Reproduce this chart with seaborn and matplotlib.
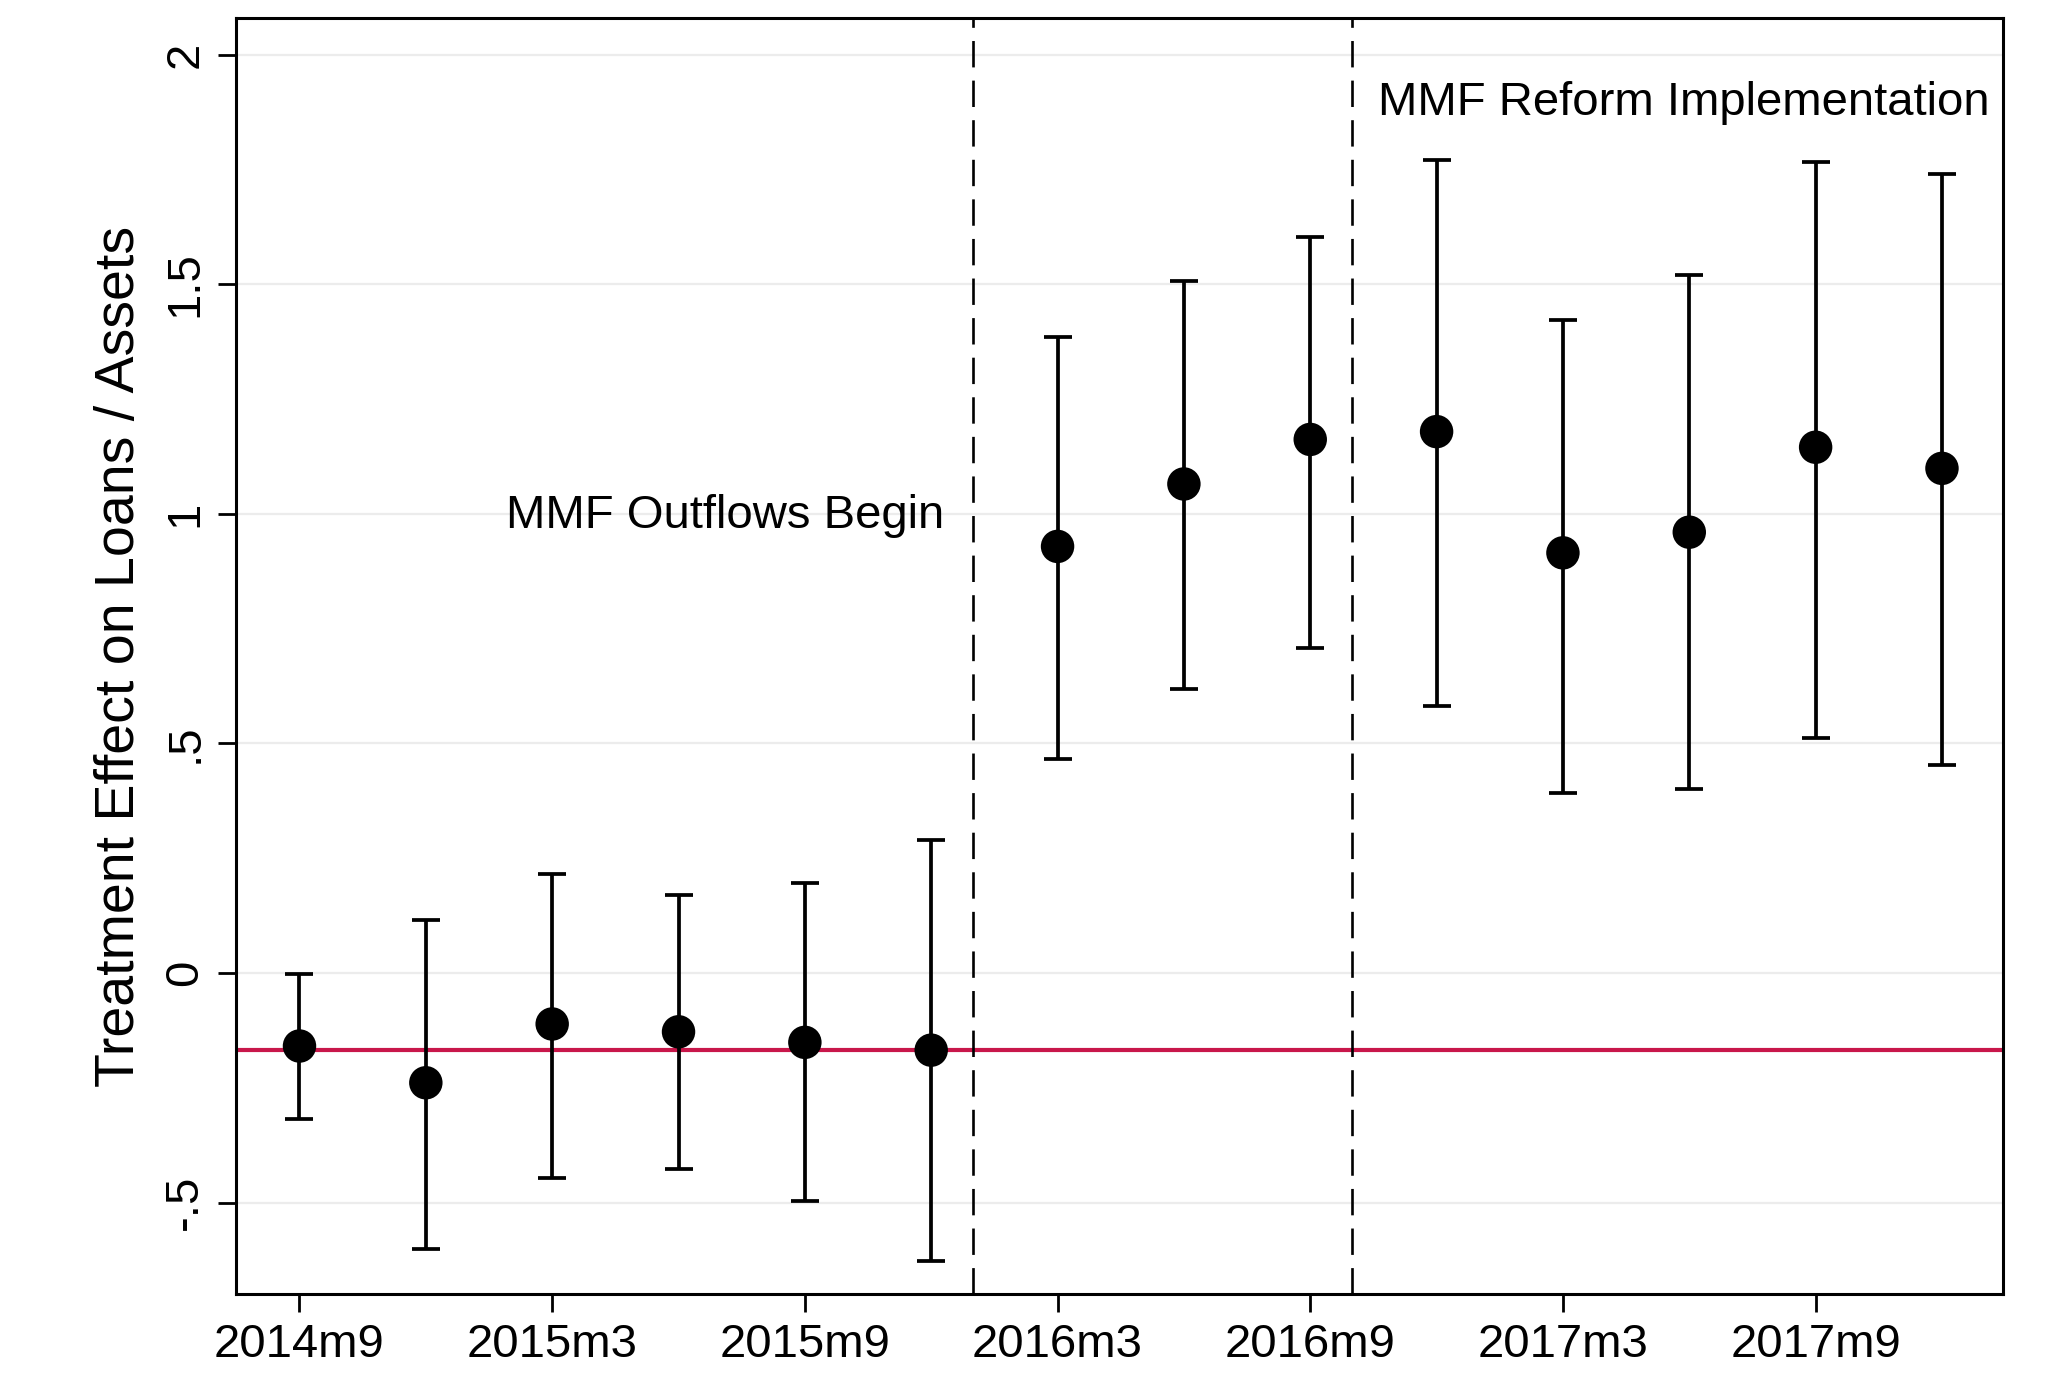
import numpy as np
import pandas as pd
import matplotlib
matplotlib.use("Agg")
import matplotlib.pyplot as plt
import seaborn as sns

# quarterly event-study estimates
periods = ["2014m9", "2014m12", "2015m3", "2015m6", "2015m9", "2015m12",
           "2016m3", "2016m6", "2016m9", "2016m12", "2017m3", "2017m6",
           "2017m9", "2017m12"]
coef = [-0.159, -0.239, -0.111, -0.128, -0.151, -0.168,
        0.929, 1.065, 1.162, 1.179, 0.915, 0.960, 1.145, 1.099]
ci_low = [-0.318, -0.602, -0.446, -0.426, -0.497, -0.628,
          0.466, 0.619, 0.707, 0.582, 0.392, 0.401, 0.511, 0.452]
ci_high = [-0.003, 0.116, 0.216, 0.170, 0.196, 0.290,
           1.384, 1.506, 1.602, 1.770, 1.423, 1.520, 1.767, 1.741]

tick_labels = ["2014m9", "2015m3", "2015m9", "2016m3", "2016m9", "2017m3", "2017m9"]
event_dates = ["2016m1", "2016m10"]
event_labels = ["MMF Outflows Begin", "MMF Reform Implementation"]
pre_mean = -0.168
y_ticks = [-0.5, 0, 0.5, 1, 1.5, 2]
y_tick_labels = ["-.5", "0", ".5", "1", "1.5", "2"]


def to_month(s):
    # months since 2014m9
    y, m = s.split("m")
    return (int(y) - 2014) * 12 + int(m) - 9


df = pd.DataFrame({"period": periods, "coef": coef, "lo": ci_low, "hi": ci_high})
df["t"] = df["period"].apply(to_month)

sns.set_style("white")
plt.rcParams["font.family"] = ["Liberation Sans", "DejaVu Sans"]
plt.rcParams["text.color"] = "black"
plt.rcParams["axes.labelcolor"] = "black"
plt.rcParams["xtick.color"] = "black"
plt.rcParams["ytick.color"] = "black"

fig = plt.figure(figsize=(20.46, 13.76), dpi=100)
ax = fig.add_axes([0.1155, 0.0596, 0.8635, 0.9274])

# horizontal grid
for yt in y_ticks:
    ax.axhline(yt, color="#ececec", lw=1.6, zorder=0)

ax.axhline(pre_mean, color="#c8174a", lw=3.0, zorder=1)

for d in event_dates:
    ax.axvline(to_month(d), color="black", lw=1.9, dashes=(10, 5), zorder=1)

ax.errorbar(df["t"], df["coef"], yerr=[df["coef"] - df["lo"], df["hi"] - df["coef"]],
            fmt="none", ecolor="black", elinewidth=2.7, capsize=10, capthick=2.7, zorder=2)
sns.scatterplot(data=df, x="t", y="coef", color="black", s=580, edgecolor="none",
                ax=ax, zorder=3)

ax.text(to_month(event_dates[0]) - 0.7, 0.995, event_labels[0], ha="right", va="center",
        fontsize=34)
ax.text(to_month(event_dates[1]) + 0.6, 1.895, event_labels[1], ha="left", va="center",
        fontsize=34)

ax.set_xlim(-1.5, 40.45)
ax.set_ylim(-0.699, 2.08)
ax.set_xticks([to_month(s) for s in tick_labels])
ax.set_xticklabels(tick_labels, fontsize=34)
ax.set_yticks(y_ticks)
ax.set_yticklabels(y_tick_labels, fontsize=34, rotation=90, va="center")
ax.tick_params(axis="both", direction="out", length=13, width=2, color="black",
               bottom=True, left=True, pad=8)
ax.set_xlabel("")
ax.set_ylabel("Treatment Effect on Loans / Assets", fontsize=40, labelpad=12)

for sp in ax.spines.values():
    sp.set_color("black")
    sp.set_linewidth(2.2)

fig.savefig("out.png", dpi=100)
